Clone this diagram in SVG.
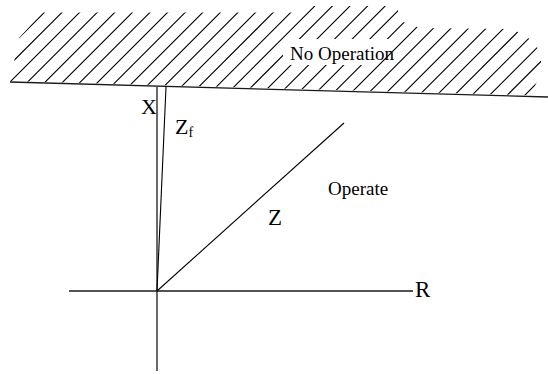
<svg xmlns="http://www.w3.org/2000/svg" width="548" height="374" viewBox="0 0 548 374">
  <style>
    .t { font-family: "Liberation Serif", "Times New Roman", serif; fill: #000; }
    .ax { stroke: #1a1a1a; stroke-width: 1.3; fill: none; }
    .ln { stroke: #000; stroke-width: 1.1; fill: none; }
    .hatch { stroke: #000; stroke-width: 1.1; fill: none; }
  </style>
  <defs>
    <clipPath id="hatchClip">
      <path clip-rule="evenodd" d="M10,82 L14,62 L19,38 L42,12.5 L300,12.5 L302,6 L396,6 L403,22 L420,28 L512,29 L526,36 L535,44 L541,54 L541,72 L531,95.3 L10,81 Z M283,39 L399,39 L373,65 L283,65 Z"/>
    </clipPath>
  </defs>
  <rect width="548" height="374" fill="#fff"/>
  <g id="no-operation-region">
    <path class="hatch" clip-path="url(#hatchClip)" d="M56.8,0 l-120,120 M74.4,0 l-120,120 M92,0 l-120,120 M109.6,0 l-120,120 M127.2,0 l-120,120 M144.8,0 l-120,120 M162.4,0 l-120,120 M180,0 l-120,120 M197.6,0 l-120,120 M215.2,0 l-120,120 M232.8,0 l-120,120 M250.4,0 l-120,120 M268,0 l-120,120 M285.6,0 l-120,120 M303.2,0 l-120,120 M320.8,0 l-120,120 M338.4,0 l-120,120 M356,0 l-120,120 M373.6,0 l-120,120 M391.2,0 l-120,120 M408.8,0 l-120,120 M426.4,0 l-120,120 M444,0 l-120,120 M461.6,0 l-120,120 M479.2,0 l-120,120 M496.8,0 l-120,120 M514.4,0 l-120,120 M532,0 l-120,120 M549.6,0 l-120,120 M567.2,0 l-120,120 M584.8,0 l-120,120 M602.4,0 l-120,120 M620,0 l-120,120"/>
    <line class="ax" x1="10" y1="82" x2="548" y2="97" stroke-width="1.5"/>
    <text class="t" x="290" y="60" font-size="19">No Operation</text>
  </g>
  <g id="axes">
    <line class="ax" x1="69" y1="291" x2="413" y2="291"/>
    <line class="ax" x1="157" y1="87" x2="157" y2="371"/>
    <text class="t" x="415" y="297" font-size="23">R</text>
    <text class="t" x="157" y="114" font-size="22" text-anchor="end">X</text>
  </g>
  <g id="connectors">
    <line class="ln" x1="157" y1="291" x2="344" y2="123"/>
    <line class="ln" x1="157" y1="291" x2="166" y2="87"/>
  </g>
  <g id="labels">
    <text class="t" x="175" y="134" font-size="22">Z<tspan font-size="14" dy="3">f</tspan></text>
    <text class="t" x="268" y="225" font-size="23">Z</text>
    <text class="t" x="328" y="195" font-size="19">Operate</text>
  </g>
</svg>
